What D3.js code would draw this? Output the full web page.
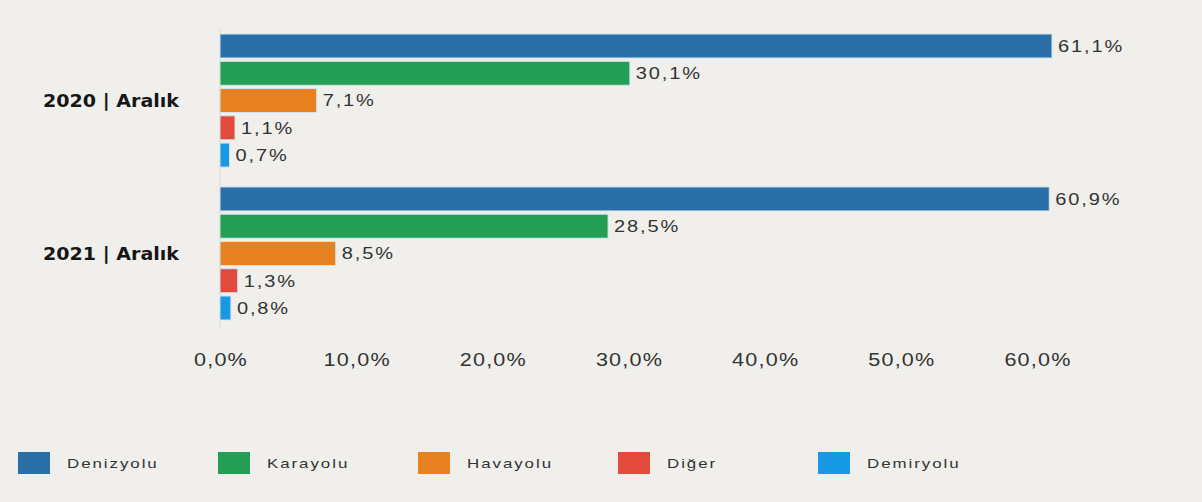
<!DOCTYPE html>
<html>
<head>
<meta charset="utf-8">
<script src="https://cdnjs.cloudflare.com/ajax/libs/d3/7.8.5/d3.min.js"></script>
<style>
body { margin:0; background:#f0efeb; }
svg { display:block; font-family:"Liberation Sans", Arial, sans-serif; }
</style>
</head>
<body>
<svg width="1202" height="502"></svg>
<script>
var periods = ["2020 | Aralık", "2021 | Aralık"]
var modes = ["Denizyolu", "Karayolu", "Havayolu", "Diğer", "Demiryolu"]
var colors = ["#2a6fa7", "#239f55", "#e8811f", "#e24a3b", "#1799e4"]
var values2020 = [61.1, 30.1, 7.1, 1.1, 0.7]
var values2021 = [60.9, 28.5, 8.5, 1.3, 0.8]
var ticks = [0, 10, 20, 30, 40, 50, 60]

var svg = d3.select("svg")

var x = d3.scaleLinear().domain([0, 60]).range([220, 1037])

var y0 = d3.scaleBand().domain(periods).range([34, 320]).paddingInner(0.13)
var y1 = d3.scaleBand().domain(modes).range([0, y0.bandwidth()]).paddingInner(0.12)

var fmt = function(v){ return v.toFixed(1).replace(".", ",") + "%" }

// the source text looks stretched sideways, so stretch ours too
function wide(sel, tx, ty, sx){
    sel.attr("transform", function(d){ return "translate(" + tx(d) + "," + ty(d) + ") scale(" + sx + ",1)" })
}

// faint axis line
svg.append("line")
    .attr("x1", x(0)).attr("x2", x(0))
    .attr("y1", 28).attr("y2", 328)
    .attr("stroke", "#dcdad4").attr("stroke-width", 1)

var data = [values2020, values2021]

var groups = svg.selectAll("g.grp")
    .data(periods)
    .enter().append("g")
    .attr("class", "grp")
    .attr("transform", function(d){ return "translate(0," + y0(d) + ")" })

groups.each(function(p, gi){
    var g = d3.select(this)
    var rows = modes.map(function(m, i){ return {mode: m, v: data[gi][i], c: colors[i]} })

    g.selectAll("rect")
        .data(rows)
        .enter().append("rect")
        .attr("x", x(0))
        .attr("y", function(d){ return y1(d.mode) })
        .attr("width", function(d){ return x(d.v) - x(0) })
        .attr("height", y1.bandwidth())
        .attr("fill", function(d){ return d.c })
        .attr("stroke", "#d3e4ee").attr("stroke-width", 1)

    g.selectAll("text.val")
        .data(rows)
        .enter().append("text")
        .attr("class", "val")
        .attr("dy", "0.36em")
        .attr("font-size", 16)
        .attr("letter-spacing", 1.5)
        .attr("fill", "#333")
        .text(function(d){ return fmt(d.v) })
        .call(wide, function(d){ return x(d.v) + 6 }, function(d){ return y1(d.mode) + y1.bandwidth()/2 }, 1.25)

    g.append("text")
        .attr("dy", "0.36em")
        .attr("text-anchor", "end")
        .attr("font-family", "'DejaVu Sans', Verdana, sans-serif")
        .attr("font-size", 18)
        .attr("font-weight", "bold")
        .attr("fill", "#161616")
        .text(p)
        .call(wide, function(){ return 179 }, function(){ return y0.bandwidth()/2 }, 1.06)
})

// x axis tick labels
svg.append("g")
    .selectAll("text")
    .data(ticks)
    .enter().append("text")
    .attr("dy", "0.35em")
    .attr("text-anchor", "middle")
    .attr("font-size", 18)
    .attr("letter-spacing", 1)
    .attr("fill", "#333")
    .text(function(d){ return d.toFixed(1).replace(".", ",") + "%" })
    .call(wide, function(d){ return x(d) + 1 }, function(){ return 360 }, 1.2)

// legend
var legend = svg.append("g").attr("transform", "translate(18,452)")
var li = legend.selectAll("g")
    .data(modes)
    .enter().append("g")
    .attr("transform", function(d, i){ return "translate(" + (i*200) + ",0)" })

li.append("rect")
    .attr("width", 32).attr("height", 22)
    .attr("fill", function(d, i){ return colors[i] })

li.append("text")
    .attr("dy", "0.35em")
    .attr("font-size", 13)
    .attr("letter-spacing", 1.5)
    .attr("fill", "#333")
    .text(function(d){ return d })
    .call(wide, function(){ return 49 }, function(){ return 11 }, 1.3)
</script>
</body>
</html>
